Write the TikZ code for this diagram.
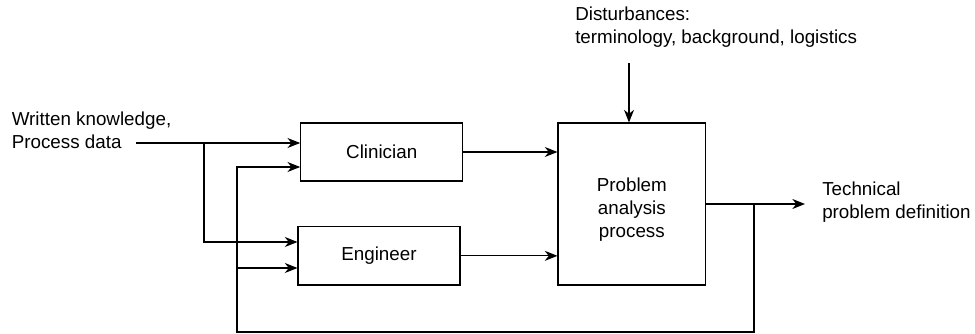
\documentclass[tikz,border=0pt]{standalone}
\usepackage{fontspec}
\setmainfont{Liberation Sans}
\usetikzlibrary{arrows.meta}
\begin{document}
\begin{tikzpicture}[x=0.75pt,y=-0.75pt,
  lbl/.style={font=\fontsize{14.1}{17.25}\selectfont},
  box/.style={lbl, draw, line width=0.8pt, inner sep=0pt, align=center},
  txt/.style={lbl, inner sep=0pt, align=left, anchor=north west},
  arr/.style={line width=0.8pt, -{Stealth[length=9.5pt,width=7.5pt,inset=3pt]}},
  ln/.style={line width=0.8pt}]
\useasboundingbox (0,0) rectangle (975,334);
\node[box, minimum width=121.5pt, minimum height=43.5pt] (clin) at (381.7,152) {Clinician};
\node[box, minimum width=121.5pt, minimum height=43.7pt] (eng) at (379,255.85) {Engineer};
\node[box, minimum width=110.8pt, minimum height=121.5pt, text height=53.3pt] (prob) at (631.85,204) {Problem\\analysis\\process};
\node[txt] (inp) at (11.5,112) {Written knowledge,\\Process data};
\node[txt] (dis) at (575,7) {Disturbances:\\terminology, background, logistics};
\node[txt] (res) at (822,182) {Technical\\problem definition};
\coordinate (src) at (136,143);
\coordinate (br) at (204,143);
\coordinate (brd) at (204,242);
\coordinate (fbo) at (754,204);
\coordinate (fbr) at (754,332);
\coordinate (fbl) at (237,332);
\coordinate (fbc) at (237,167);
\coordinate (fbe) at (237,268);
\coordinate (out) at (805,204);
\coordinate (dist) at (629,63);
\draw[arr] (src) -- (clin.west |- src);
\draw[arr] (br) -- (brd) -- (eng.west |- brd);
\draw[arr] (clin.east) -- (prob.west |- clin.east);
\draw[arr] (eng.east) -- (prob.west |- eng.east);
\draw[arr] (dist) -- (prob.north -| dist);
\draw[arr] (prob.east) -- (out);
\draw[arr] (fbo) -- (fbr) -- (fbl) -- (fbc) -- (clin.west |- fbc);
\draw[arr] (fbe) -- (eng.west |- fbe);
\end{tikzpicture}
\end{document}
